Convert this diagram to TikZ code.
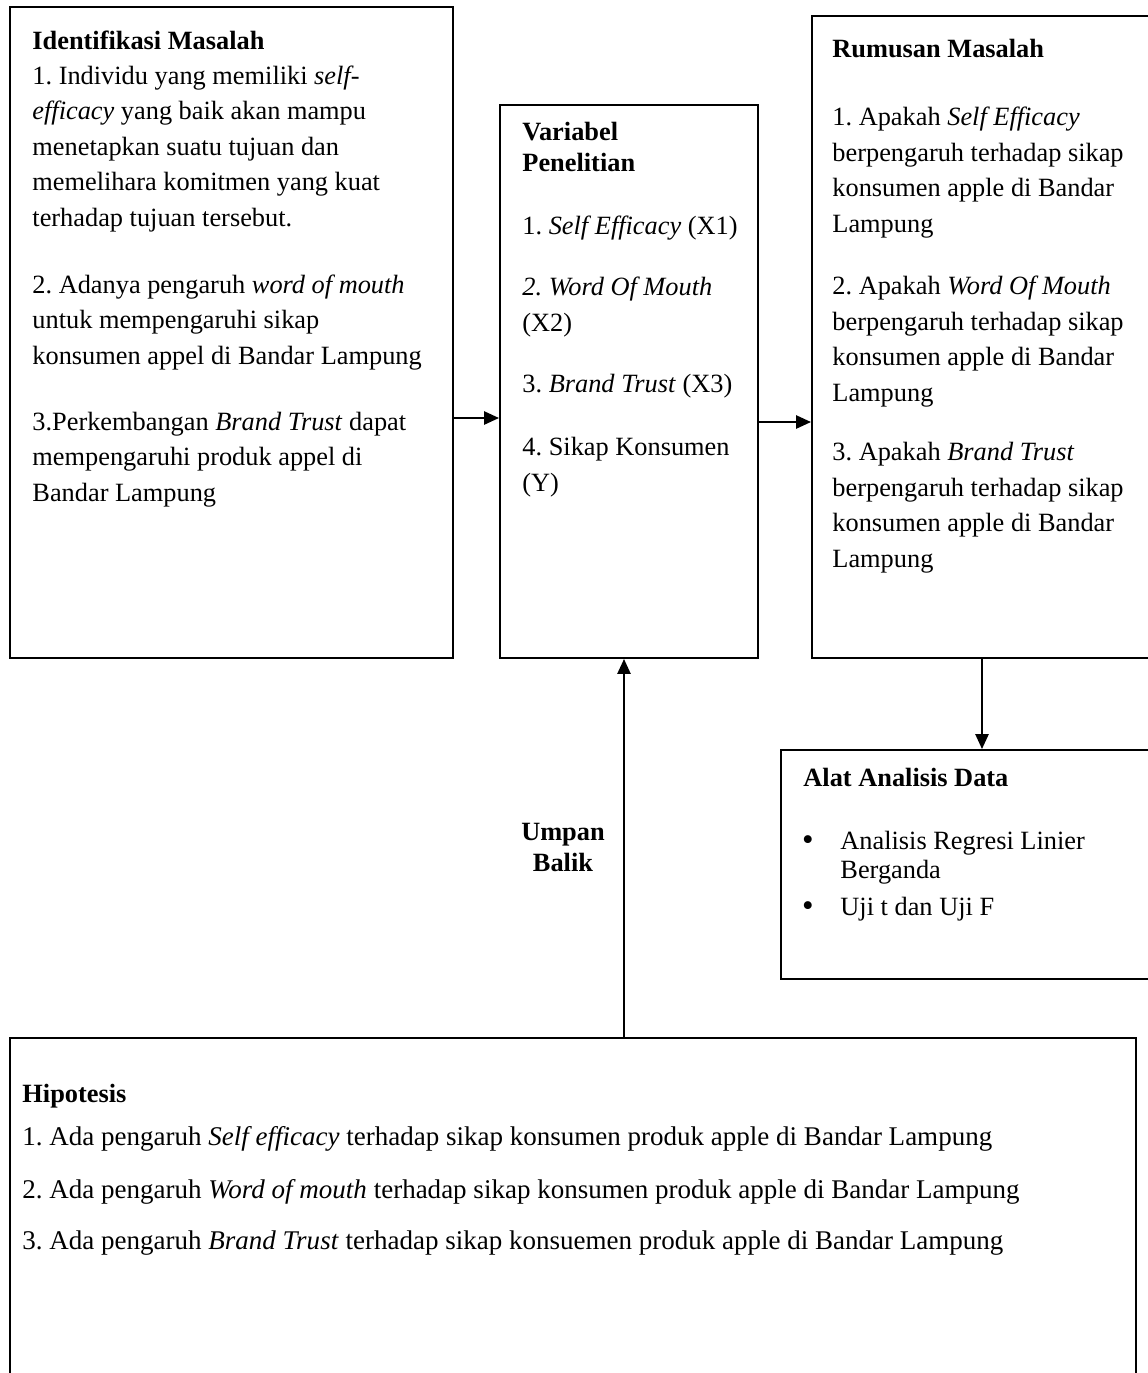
\documentclass[tikz,border=0pt]{standalone}
\usepackage{fontspec}
\setmainfont{Liberation Serif}
\frenchspacing
\usetikzlibrary{arrows.meta,fit}
\tikzset{
  box/.style={draw,line width=0.9pt,inner sep=0pt},
  txt/.style={anchor=base west,inner sep=0pt,align=left,font=\fontsize{12}{16.1}\selectfont},
  hd/.style={txt,font=\fontsize{12}{13.7}\selectfont\bfseries},
  link/.style={line width=0.9pt,-{Triangle[length=6.8pt,width=6pt]}},
}
\begin{document}
\begin{tikzpicture}[x=0.016cm,y=-0.016cm,line cap=butt,line join=miter]
  \clip (0,0) rectangle (1148,1373);
  \node[box,fit={(10,7) (453,658)}] (I) {};
  \node[box,fit={(500,105) (758,658)}] (V) {};
  \node[box,fit={(812,16) (1170,658)}] (R) {};
  \node[box,fit={(781,750) (1170,979)}] (A) {};
  \node[box,fit={(10,1038) (1136,1400)}] (H) {};
  \coordinate (p) at (453,418);
  \coordinate (q) at (758,422);
  \coordinate (r) at (982,0);
  \coordinate (u) at (624,0);
  \draw[link] (p) -- (p -| V.west);
  \draw[link] (q) -- (q -| R.west);
  \draw[link] (r |- R.south) -- (r |- A.north);
  \draw[link] (u |- H.north) -- (u |- V.south);
  % multi-line nodes sit on the baseline of their last line
  \node[hd] (I0) at (32,49) {Identifikasi Masalah};
  \node[txt] (I1) at (32,226) {1. Individu yang memiliki \textit{self-}\\\textit{efficacy} yang baik akan mampu\\menetapkan suatu tujuan dan\\memelihara komitmen yang kuat\\terhadap tujuan tersebut.};
  \node[txt] (I2) at (32,364) {2. Adanya pengaruh \textit{word of mouth}\\untuk mempengaruhi sikap\\konsumen appel di Bandar Lampung};
  \node[txt] (I3) at (32,501) {3.Perkembangan \textit{Brand Trust} dapat\\mempengaruhi produk appel di\\Bandar Lampung};
  \node[hd] (V0) at (522,171) {Variabel\\Penelitian};
  \node[txt] (V1) at (522,234) {1. \textit{Self Efficacy} (X1)};
  \node[txt] (V2) at (522,331) {\textit{2. Word Of Mouth}\\(X2)};
  \node[txt] (V3) at (522,392) {3. \textit{Brand Trust} (X3)};
  \node[txt] (V4) at (522,491) {4. Sikap Konsumen\\(Y)};
  \node[hd] (R0) at (832,57) {Rumusan Masalah};
  \node[txt] (R1) at (832,232) {1. Apakah \textit{Self Efficacy}\\berpengaruh terhadap sikap\\konsumen apple di Bandar\\Lampung};
  \node[txt] (R2) at (832,401) {2. Apakah \textit{Word Of Mouth}\\berpengaruh terhadap sikap\\konsumen apple di Bandar\\Lampung};
  \node[txt] (R3) at (832,567) {3. Apakah \textit{Brand Trust}\\berpengaruh terhadap sikap\\konsumen apple di Bandar\\Lampung};
  \node[hd] (A0) at (803,786) {Alat Analisis Data};
  \node[txt,anchor=base,font=\fontsize{15}{15}\selectfont] (Ab1) at (808,850) {\textbullet};
  \node[txt,font=\fontsize{12}{13.2}\selectfont] (A1) at (840,878) {Analisis Regresi Linier\\Berganda};
  \node[txt,anchor=base,font=\fontsize{15}{15}\selectfont] (Ab2) at (808,916) {\textbullet};
  \node[txt] (A2) at (840,915) {Uji t dan Uji F};
  \node[hd,anchor=base,align=center] (U) at (563,871) {Umpan\\Balik};
  \node[hd] (H0) at (22,1102) {Hipotesis};
  \node[txt,font=\fontsize{12.3}{14}\selectfont] (H1) at (22,1145) {1. Ada pengaruh \textit{Self efficacy} terhadap sikap konsumen produk apple di Bandar Lampung};
  \node[txt,font=\fontsize{12.3}{14}\selectfont] (H2) at (22,1198) {2. Ada pengaruh \textit{Word of mouth} terhadap sikap konsumen produk apple di Bandar Lampung};
  \node[txt,font=\fontsize{12.3}{14}\selectfont] (H3) at (22,1249) {3. Ada pengaruh \textit{Brand Trust} terhadap sikap konsuemen produk apple di Bandar Lampung};
\end{tikzpicture}
\end{document}
